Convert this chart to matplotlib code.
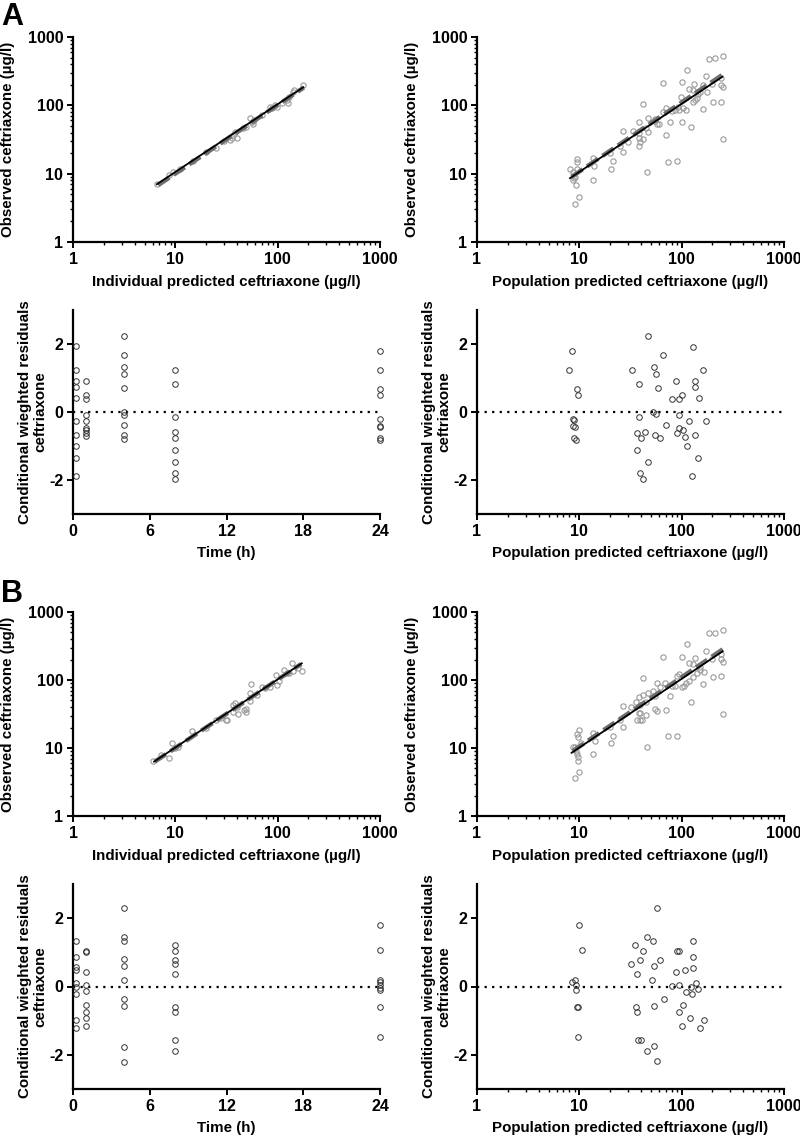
import matplotlib
matplotlib.use("Agg")
import matplotlib.pyplot as plt
import numpy as np
from matplotlib.ticker import FixedLocator, NullFormatter, NullLocator

plt.rcParams['font.family'] = ['Liberation Sans', 'DejaVu Sans']
plt.rcParams['font.weight'] = 'bold'
plt.rcParams['axes.unicode_minus'] = False

# ---------------- data ----------------
# Panel A, observed vs individual predicted
A_ipred = [6.67, 8.74, 9.42, 11.1, 15.0, 20.0, 25.0, 30.0, 34.2, 36.3, 38.3, 39.7, 35.5,
           46.2, 49.1, 53.7, 55.7, 58.7, 57.0, 70.0, 84.2, 87.4, 94.2, 99.3, 110.0,
           122, 125, 140, 144, 130, 178]
A_obs_i = [6.98, 9.56, 10.7, 11.7, 15.2, 20.5, 24.0, 30.0, 31.1, 36.8, 40.3, 33.6, 32.9,
           46.1, 48.7, 64.6, 57.7, 61.0, 52.7, 72.0, 95.6, 90.4, 101, 95.6, 108,
           120, 107, 158, 168, 134, 199]
A_ind_line_x = [6.6, 178]
A_ind_line_y = [7.0, 184]
A_ind_dash_x = [6.8, 180]
A_ind_dash_y = [6.8, 182]

# Panel A, observed vs population predicted
A_ppred = [8.1, 9.42, 9.56, 9.42, 8.74, 9.07, 8.7, 9.2, 10.0, 9.07, 8.8,
           13.7, 14.0, 13.7, 20.4, 21.5, 26.9, 26.5, 33.2, 38.6, 38.0, 38.6, 39.2, 41.6,
           38.6, 41.6, 47.2, 47.2, 46.2, 54.8, 57.0, 60.5, 66.2, 65.2, 70.3, 70.3, 74.1,
           76.9, 89.4, 86.1, 92.7, 94.9, 100, 97.8, 100, 103.8, 110, 112, 122, 119, 130,
           133, 128, 135, 142, 146, 160, 163, 172, 176, 186, 213, 255, 204, 241, 241, 252,
           255, 20.0, 25.0, 30.0, 45.0, 55.0, 80.0, 150, 200, 245]
A_obs_p = [11.6, 16.2, 14.7, 11.6, 10.7, 9.04, 8.08, 6.83, 4.5, 3.6, 8.55,
           16.8, 13.1, 8.08, 11.7, 15.2, 21.0, 41.7, 42.6, 56.4, 39.8, 32.9, 29.4, 31.8,
           25.7, 106, 40.3, 64.6, 10.7, 63.1, 52.7, 52.7, 215, 80.8, 92.5, 36.8, 14.7,
           57.7, 15.2, 85.5, 95.6, 85.5, 222, 134, 57.7, 90.4, 85.5, 333, 48.7, 173, 168,
           205, 111, 120, 127, 145, 88.4, 199, 269, 158, 476, 487, 533, 111, 113, 199, 183,
           31.8, 20.0, 25.5, 29.0, 47.0, 58.0, 82.0, 155, 205, 250]
A_pop_line_x = [8.1, 250]
A_pop_line_y = [8.6, 262]
A_pop_dash_x = [8.4, 255]
A_pop_dash_y = [9.0, 285]

# Panel A, CWRES vs time
A_time = [0.25] * 10 + [1] * 9 + [4] * 10 + [8] * 9 + [24] * 9
A_cwres_t = [1.93, 1.25, 0.92, 0.73, 0.41, -0.27, -0.67, -0.99, -1.36, -1.87,
             0.91, 0.51, 0.39, -0.08, -0.27, -0.47, -0.54, -0.62, -0.72,
             2.25, 1.67, 1.31, 1.12, 0.71, 0.0, -0.08, -0.38, -0.69, -0.78,
             1.25, 0.83, -0.14, -0.59, -0.75, -1.13, -1.47, -1.79, -1.98,
             1.80, 1.24, 0.68, 0.51, -0.21, -0.40, -0.44, -0.75, -0.83]

# Panel A, CWRES vs population predicted
A_res_pred = [47.4, 130, 8.5, 65, 8.0, 33, 160, 53.8, 56, 89, 136, 38.5, 135, 59, 9.4, 9.8,
              100, 80, 94.5, 149, 53, 56.5, 94, 8.7, 8.8, 38.5, 118, 173, 70, 8.6, 9.1, 95,
              103, 37, 44, 90, 136, 55, 40.5, 61, 8.8, 109, 9.3, 114, 36.3, 144, 47, 38.9,
              126, 41.5]
A_res_cw = [2.25, 1.92, 1.79, 1.67, 1.24, 1.24, 1.25, 1.31, 1.12, 0.91, 0.91, 0.82, 0.73,
            0.71, 0.68, 0.50, 0.50, 0.38, 0.38, 0.41, 0.0, -0.06, -0.10, -0.22, -0.24, -0.14,
            -0.26, -0.27, -0.38, -0.42, -0.45, -0.48, -0.54, -0.61, -0.59, -0.62, -0.68,
            -0.69, -0.75, -0.76, -0.75, -0.73, -0.83, -0.99, -1.13, -1.36, -1.47, -1.79,
            -1.87, -1.98]

# Panel B, observed vs individual predicted
B_ipred = [6.1, 7.19, 8.74, 9.21, 9.93, 10.5, 14.4, 31.3, 32.2, 36.3, 38.3, 36.9, 41.3,
           46.9, 49.1, 49.1, 53.7, 54.5, 53.7, 62.4, 69.8, 84.2, 96.3, 97.8, 104, 115, 122,
           137, 142, 172, 159, 20.0, 25.0, 28.0, 40.0, 75.0, 130]
B_obs_i = [6.44, 7.89, 7.05, 11.7, 9.89, 10.2, 18.0, 25.8, 25.8, 42.9, 46.4, 34.2, 31.3,
           36.2, 37.0, 34.0, 63.7, 87.3, 49.7, 60.2, 79.8, 78.0, 118, 84.4, 97.8, 140, 128,
           176, 137, 137, 148, 20.0, 25.5, 28.0, 40.0, 75.0, 125]
B_ind_line_x = [6.2, 172]
B_ind_line_y = [6.3, 176]
B_ind_dash_x = [6.3, 170]
B_ind_dash_y = [6.3, 172]

# Panel B, observed vs population predicted
B_ppred = [8.6, 9.0, 9.3, 9.4, 9.6, 9.8, 10.0, 9.1, 9.4, 10.0, 9.6, 10.3,
           13.7, 14.1, 13.7, 20.4, 21.5, 26.5, 26.9, 31.7, 35.8, 38.6, 42.2, 41.6, 39.2,
           38.0, 39.2, 36.9, 39.2, 40.6, 44.9, 46.2, 47.2, 52.1, 54.8, 57.0, 57.8, 61.4,
           66.2, 68.7, 70.3, 74.1, 76.9, 89.4, 86.1, 90.7, 94.9, 100, 101, 105, 110, 112,
           119, 122, 119, 130, 135, 130, 142, 151, 160, 167, 172, 186, 213, 255, 204, 241,
           241, 252, 252, 20.0, 25.0, 45.0, 55.0, 80.0, 150, 200, 240]
B_obs_p = [10.5, 10.5, 9.03, 8.07, 7.29, 6.44, 4.49, 3.58, 16.1, 18.4, 14.4, 11.7,
           16.4, 12.8, 8.07, 11.7, 15.2, 41.9, 20.6, 39.6, 48.0, 56.9, 60.2, 106, 42.9,
           32.4, 32.4, 25.8, 25.8, 25.8, 30.6, 10.5, 65.1, 69.7, 37.0, 89.3, 35.4, 79.8,
           216, 91.4, 36.2, 15.0, 58.2, 15.0, 82.5, 115, 122, 220, 79.8, 82.5, 89.3, 338,
           96.6, 48.0, 176, 172, 208, 112, 125, 140, 87.3, 130, 270, 486, 497, 543, 112, 115,
           201, 186, 31.6, 20.5, 25.5, 47.0, 58.0, 82.0, 155, 205, 245]
B_pop_line_x = [8.4, 251]
B_pop_line_y = [8.5, 264]
B_pop_dash_x = [8.6, 255]
B_pop_dash_y = [9.0, 286]

# Panel B, CWRES vs time
B_time = [0.25] * 9 + [1] * 9 + [4] * 10 + [8] * 9 + [24] * 9
B_cwres_t = [1.34, 0.85, 0.56, 0.49, 0.10, 0.0, -0.22, -0.98, -1.22,
             1.04, 1.02, 0.41, 0.05, -0.13, -0.54, -0.76, -0.93, -1.15,
             2.31, 1.44, 1.34, 0.80, 0.61, 0.20, -0.37, -0.57, -1.76, -2.20,
             1.22, 1.04, 0.78, 0.65, 0.37, -0.59, -0.76, -1.58, -1.88,
             1.79, 1.06, 0.18, 0.12, 0.05, -0.03, -0.11, -0.60, -1.48]

# Panel B, CWRES vs population predicted
B_res_pred = [57.2, 10.0, 10.6, 8.5, 9.06, 9.3, 9.3, 9.47, 9.7, 9.6, 45.7, 51.9, 35.1, 42.0,
              39.3, 31.9, 53.1, 61.7, 37.0, 51.1, 35.9, 37.0, 53.8, 67.9, 37.6, 40.5, 45.7,
              54.2, 58.0, 89.7, 95.2, 130, 130, 130, 109, 89, 80.7, 95.2, 123, 126, 110,
              137, 143, 103, 95.2, 120, 101, 166, 151]
B_res_cw = [2.31, 1.80, 1.07, 0.12, 0.18, 0.03, -0.10, -0.60, -0.60, -1.47, 1.44, 1.34,
            1.22, 1.04, 0.78, 0.66, 0.61, 0.79, 0.37, 0.20, -0.59, -0.76, -0.58, -0.38,
            -1.57, -1.57, -1.89, -1.75, -2.19, 1.04, 1.05, 1.33, 0.85, 0.54, 0.48, 0.42,
            0.01, 0.04, -0.01, -0.22, -0.15, 0.10, -0.06, -0.55, -0.75, -0.93, -1.16,
            -0.98, -1.21]

log_ticks = [1, 10, 100, 1000]
log_ticklabels = ['1', '10', '100', '1000']
time_ticks = [0, 6, 12, 18, 24]
res_ticks = [-2, 0, 2]

xlab_ind = 'Individual predicted ceftriaxone (µg/l)'
xlab_pop = 'Population predicted ceftriaxone (µg/l)'
ylab_obs = 'Observed ceftriaxone (µg/l)'
ylab_res = 'Conditional wieghted residuals\nceftriaxone'
xlab_time = 'Time (h)'

# ---------------- styling helpers ----------------
W, H = 800, 1135
fig = plt.figure(figsize=(W / 100, H / 100), dpi=100)

LAB_FS = 10.9
TICK_FS = 11.6


def make_ax(left_px, top_px, bottom_px, right_px):
    return fig.add_axes([left_px / W, 1 - bottom_px / H,
                         (right_px - left_px) / W, (bottom_px - top_px) / H])


def style(ax):
    for s in ['top', 'right']:
        ax.spines[s].set_visible(False)
    for s in ['left', 'bottom']:
        ax.spines[s].set_linewidth(1.6)
    ax.tick_params(which='major', direction='out', length=4.5, width=1.4,
                   labelsize=TICK_FS, pad=2.5)
    ax.tick_params(which='minor', direction='out', length=2.5, width=1.0)
    for lab in ax.get_xticklabels() + ax.get_yticklabels():
        lab.set_fontweight('bold')


def log_axis(axis):
    axis.set_major_locator(FixedLocator(log_ticks))
    minors = [m * 10 ** e for e in range(0, 3) for m in range(2, 10)]
    axis.set_minor_locator(FixedLocator(minors))
    axis.set_minor_formatter(NullFormatter())


def obs_panel(ax, x, y, lx, ly, dx, dy, xlabel):
    ax.set_xscale('log')
    ax.set_yscale('log')
    ax.set_xlim(1, 1000)
    ax.set_ylim(1, 1000)
    log_axis(ax.xaxis)
    log_axis(ax.yaxis)
    ax.set_xticklabels(log_ticklabels)
    ax.set_yticklabels(log_ticklabels)
    ax.plot(x, y, linestyle='none', marker='o', markersize=3.8,
            markerfacecolor='none', markeredgecolor='#9a9a9a', markeredgewidth=0.8,
            zorder=2)
    ax.plot(dx, dy, color='#6e6e6e', lw=3.2, linestyle=(0, (3, 1.2)), zorder=3,
            solid_capstyle='butt')
    ax.plot(lx, ly, color='black', lw=1.3, zorder=4)
    ax.set_xlabel(xlabel, fontsize=LAB_FS, fontweight='bold')
    ax.set_ylabel(ylab_obs, fontsize=LAB_FS, fontweight='bold')
    ax.xaxis.set_label_coords(0.5, -0.16)
    ax.yaxis.set_label_coords(-0.19, 0.5)
    style(ax)


def res_common(ax, x, y):
    ax.set_ylim(-3, 3)
    ax.yaxis.set_major_locator(FixedLocator(res_ticks))
    ax.yaxis.set_minor_locator(NullLocator())
    ax.plot(x, y, linestyle='none', marker='o', markersize=4.0,
            markerfacecolor='none', markeredgecolor='#333333', markeredgewidth=0.7,
            zorder=3, clip_on=False)
    ax.axhline(0, color='black', lw=1.6, linestyle=(0, (1, 2.4)), zorder=2)
    ax.set_ylabel(ylab_res, fontsize=LAB_FS, fontweight='bold', linespacing=1.2)
    ax.yaxis.set_label_coords(-0.082, 0.5)
    ax.xaxis.set_label_coords(0.5, -0.155)


def res_time(ax, x, y):
    res_common(ax, x, y)
    ax.set_xlim(0, 24)
    ax.xaxis.set_major_locator(FixedLocator(time_ticks))
    ax.xaxis.set_minor_locator(NullLocator())
    ax.set_xlabel(xlab_time, fontsize=LAB_FS, fontweight='bold')
    style(ax)


def res_pop(ax, x, y):
    res_common(ax, x, y)
    ax.set_xscale('log')
    ax.set_xlim(1, 1000)
    log_axis(ax.xaxis)
    ax.set_xticklabels(log_ticklabels)
    ax.set_xlabel(xlab_pop, fontsize=LAB_FS, fontweight='bold')
    style(ax)


# ---------------- panels ----------------
L1, R1 = 73, 380
L2, R2 = 477, 784

ax = make_ax(L1, 37, 242, R1)
obs_panel(ax, A_ipred, A_obs_i, A_ind_line_x, A_ind_line_y, A_ind_dash_x, A_ind_dash_y, xlab_ind)
ax = make_ax(L2, 37, 242, R2)
obs_panel(ax, A_ppred, A_obs_p, A_pop_line_x, A_pop_line_y, A_pop_dash_x, A_pop_dash_y, xlab_pop)
ax = make_ax(L1, 310, 514, R1)
res_time(ax, A_time, A_cwres_t)
ax = make_ax(L2, 310, 514, R2)
res_pop(ax, A_res_pred, A_res_cw)

ax = make_ax(L1, 612, 816, R1)
obs_panel(ax, B_ipred, B_obs_i, B_ind_line_x, B_ind_line_y, B_ind_dash_x, B_ind_dash_y, xlab_ind)
ax = make_ax(L2, 612, 816, R2)
obs_panel(ax, B_ppred, B_obs_p, B_pop_line_x, B_pop_line_y, B_pop_dash_x, B_pop_dash_y, xlab_pop)
ax = make_ax(L1, 884, 1089, R1)
res_time(ax, B_time, B_cwres_t)
ax = make_ax(L2, 884, 1089, R2)
res_pop(ax, B_res_pred, B_res_cw)

fig.text(1 / W, 1 - 2 / H, 'A', fontsize=22, fontweight='bold', va='top', ha='left')
fig.text(1 / W, 1 - 579 / H, 'B', fontsize=22, fontweight='bold', va='top', ha='left')

fig.savefig('out.png', dpi=100)
